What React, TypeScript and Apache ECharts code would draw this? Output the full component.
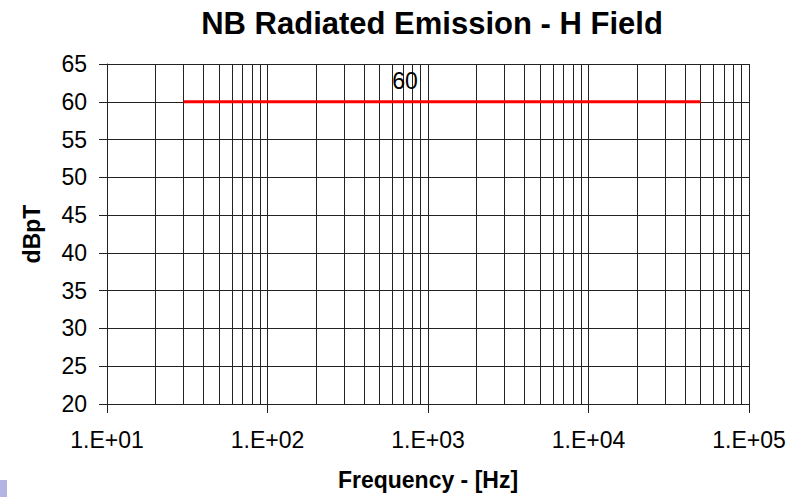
import React, { useEffect, useRef } from "react";
import * as echarts from "echarts";

const titleText = "NB Radiated Emission - H Field";
const xName = "Frequency - [Hz]";
const yName = "dBpT";
const limitFreq = [30, 50000];
const limitLevel = [60, 60];
const limitLabelFreq = 720;
const limitLabel = "60";
const minorFreqs = [
  20, 30, 40, 50, 60, 70, 80, 90,
  200, 300, 400, 500, 600, 700, 800, 900,
  2000, 3000, 4000, 5000, 6000, 7000, 8000, 9000,
  20000, 30000, 40000, 50000, 60000, 70000, 80000, 90000,
];

const FONT = "'Liberation Sans', Arial, sans-serif";

export default function App() {
  const ref = useRef<HTMLDivElement>(null);
  useEffect(() => {
    if (!ref.current) return;
    const chart = echarts.init(ref.current, null, { renderer: "svg" });
    const lineData = limitFreq.map((f, i) => [f, limitLevel[i]]);
    chart.setOption({
      animation: false,
      backgroundColor: "#ffffff",
      textStyle: { fontFamily: FONT },
      title: {
        text: titleText,
        left: 427,
        top: 3,
        textAlign: "center",
        textStyle: { fontFamily: FONT, fontSize: 31, fontWeight: "bold", color: "#000" },
      },
      grid: { left: 107, right: 49, top: 64, bottom: 93, containLabel: false },
      xAxis: {
        type: "log",
        logBase: 10,
        min: 10,
        max: 100000,
        name: xName,
        nameLocation: "middle",
        nameGap: 64,
        nameTextStyle: { fontFamily: FONT, fontSize: 23, fontWeight: "bold", color: "#000" },
        axisLine: { show: true, onZero: false, lineStyle: { color: "#222", width: 1 } },
        axisTick: { show: true, length: 9, lineStyle: { color: "#222", width: 1 } },
        axisLabel: {
          margin: 24,
          fontFamily: FONT,
          fontSize: 23,
          color: "#000",
          formatter: (v: number) => {
            const e = Math.round(Math.log10(v));
            return "1.E+" + (e < 10 ? "0" + e : String(e));
          },
        },
        splitLine: { show: true, lineStyle: { color: "#222", width: 1 } },
        minorTick: { show: false },
        minorSplitLine: { show: false },
      },
      yAxis: {
        type: "value",
        min: 20,
        max: 65,
        interval: 5,
        name: yName,
        nameLocation: "middle",
        nameGap: 64,
        nameTextStyle: { fontFamily: FONT, fontSize: 23, fontWeight: "bold", color: "#000" },
        axisLine: { show: true, lineStyle: { color: "#222", width: 1 } },
        axisTick: { show: true, length: 8, lineStyle: { color: "#222", width: 1 } },
        axisLabel: { margin: 20, fontFamily: FONT, fontSize: 23, color: "#000" },
        splitLine: { show: true, lineStyle: { color: "#222", width: 1 } },
      },
      graphic: [
        {
          type: "rect",
          shape: { x: 0, y: 480, width: 7, height: 17 },
          style: { fill: "#b4b4e4" },
        },
      ],
      series: [
        {
          type: "line",
          data: [],
          z: 1,
          silent: true,
          markLine: {
            silent: true,
            symbol: ["none", "none"],
            label: { show: false },
            lineStyle: { color: "#222", width: 1, type: "solid" },
            emphasis: { disabled: true },
            data: minorFreqs.map((f) => ({ xAxis: f })),
          },
        },
        {
          type: "line",
          data: lineData,
          z: 5,
          symbol: "none",
          lineStyle: { color: "#ff0000", width: 3 },
          itemStyle: { color: "#ff0000" },
          markPoint: {
            symbol: "circle",
            symbolSize: 1,
            itemStyle: { color: "rgba(0,0,0,0)" },
            label: {
              show: true,
              position: "top",
              distance: 9,
              formatter: limitLabel,
              fontFamily: FONT,
              fontSize: 23,
              color: "#000",
            },
            data: [{ coord: [limitLabelFreq, limitLevel[0]] }],
          },
        },
      ],
    });
    return () => chart.dispose();
  }, []);
  return (
    <div
      ref={ref}
      style={{ position: "fixed", left: 0, top: 0, width: 798, height: 497 }}
    />
  );
}
